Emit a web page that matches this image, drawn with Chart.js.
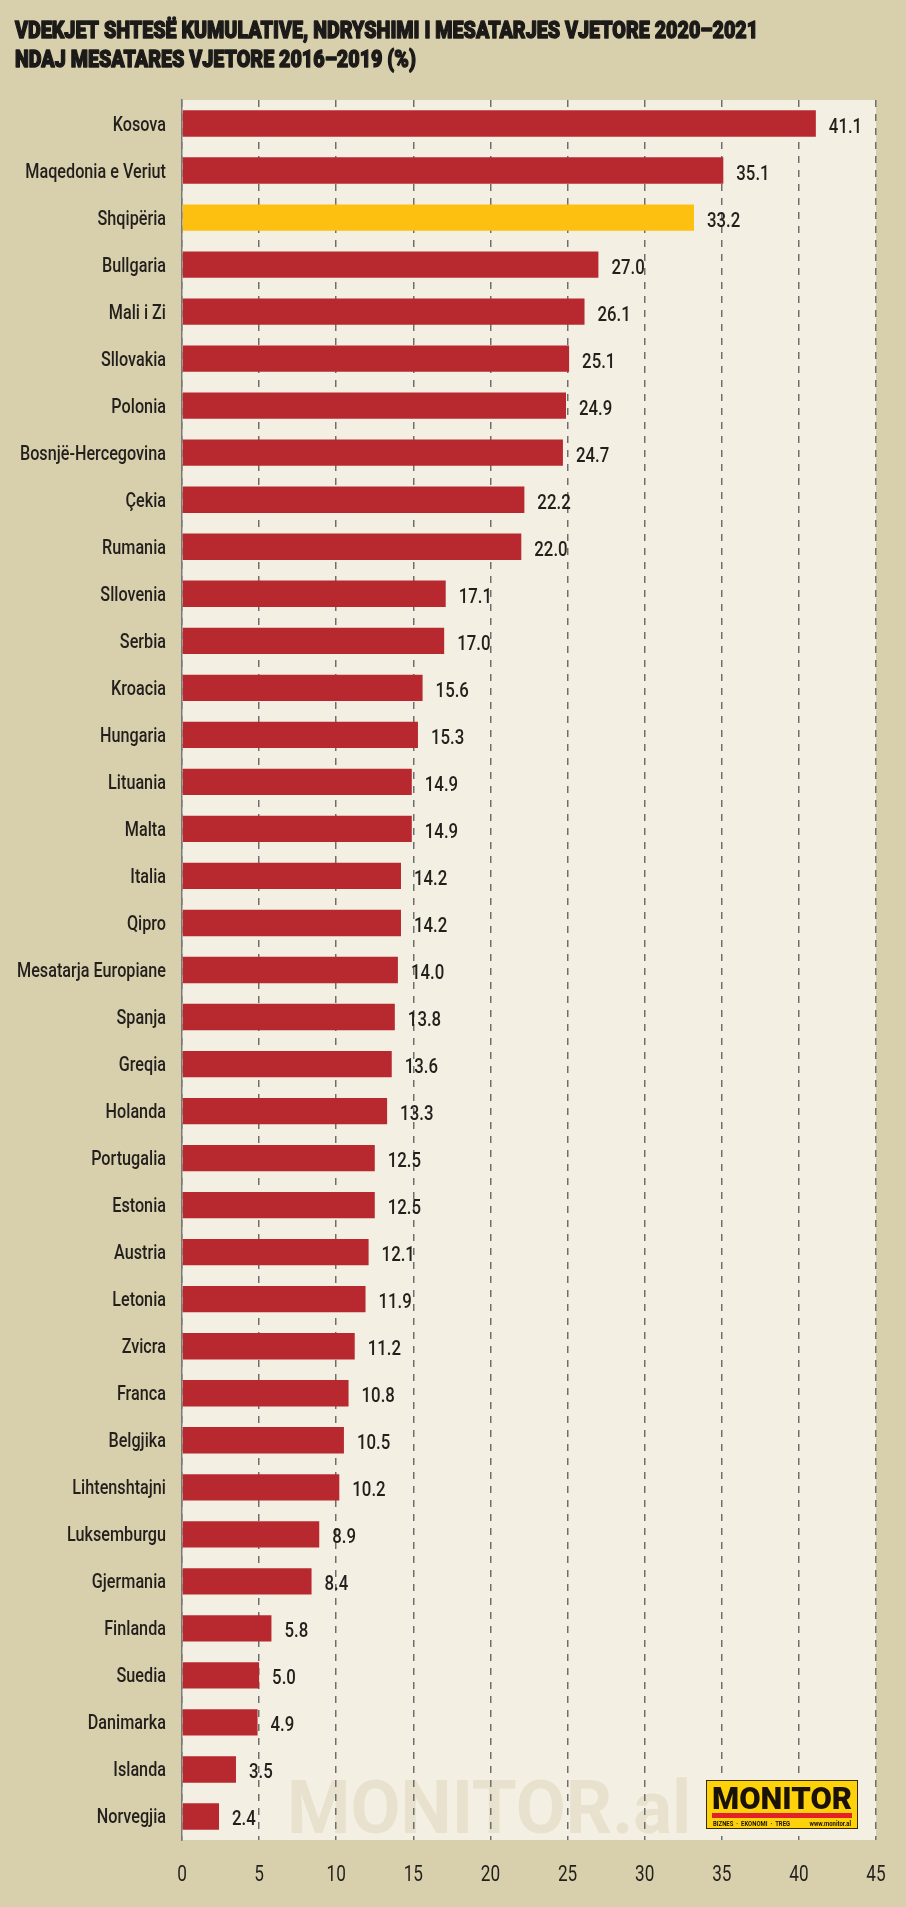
<!DOCTYPE html>
<html>
<head>
<meta charset="utf-8">
<script src="https://cdn.jsdelivr.net/npm/chart.js@4"></script>
<style>
  html, body { margin: 0; padding: 0; background: #d8d0ad; }
  #wrap { position: relative; width: 906px; height: 1907px; }
</style>
</head>
<body>
<div id="wrap"><canvas id="chart"></canvas></div>
<script>
const countries = ['Kosova', 'Maqedonia e Veriut', 'Shqipëria', 'Bullgaria', 'Mali i Zi', 'Sllovakia', 'Polonia',
   'Bosnjë-Hercegovina', 'Çekia', 'Rumania', 'Sllovenia', 'Serbia', 'Kroacia', 'Hungaria', 'Lituania', 'Malta',
   'Italia', 'Qipro', 'Mesatarja Europiane', 'Spanja', 'Greqia', 'Holanda', 'Portugalia', 'Estonia', 'Austria',
   'Letonia', 'Zvicra', 'Franca', 'Belgjika', 'Lihtenshtajni', 'Luksemburgu', 'Gjermania', 'Finlanda', 'Suedia',
   'Danimarka', 'Islanda', 'Norvegjia'];
const excessDeaths = [41.1, 35.1, 33.2, 27.0, 26.1, 25.1, 24.9, 24.7, 22.2, 22.0, 17.1, 17.0, 15.6, 15.3, 14.9, 14.9,
   14.2, 14.2, 14.0, 13.8, 13.6, 13.3, 12.5, 12.5, 12.1, 11.9, 11.2, 10.8, 10.5, 10.2, 8.9, 8.4, 5.8, 5.0, 4.9, 3.5, 2.4];
const highlight = 'Shqipëria';
const xTicks = [0, 5, 10, 15, 20, 25, 30, 35, 40, 45];
const titleLines = ['VDEKJET SHTESË KUMULATIVE, NDRYSHIMI I MESATARJES VJETORE 2020–2021',
   'NDAJ MESATARES VJETORE 2016–2019 (%)'];

const FONT = 'Roboto, "DejaVu Sans", sans-serif';
const INK = '#231f1c';

// no condensed face is installed, so squeeze the text horizontally
function narrowText(ctx, text, x, y, align, sx, stroke) {
   ctx.save();
   ctx.translate(x, y);
   ctx.scale(sx, 1);
   ctx.textAlign = align;
   if (stroke) {
      ctx.lineWidth = stroke;
      ctx.lineJoin = 'round';
      ctx.strokeStyle = ctx.fillStyle;
      ctx.strokeText(text, 0, 0);
   }
   ctx.fillText(text, 0, 0);
   ctx.restore();
}

const decor = {
   id: 'decor',
   beforeDraw(chart) {
      const { ctx, chartArea: a } = chart;
      ctx.save();
      ctx.fillStyle = '#f3f0e3';
      ctx.fillRect(a.left, a.top, a.right - a.left, a.bottom - a.top);
      // watermark
      ctx.fillStyle = '#e7e1cd';
      ctx.font = 'bold 74px ' + FONT;
      ctx.textBaseline = 'alphabetic';
      narrowText(ctx, 'MONITOR.al', 287, 1833, 'left', 0.98);
      // title
      ctx.fillStyle = '#1c1a18';
      ctx.font = '900 24px ' + FONT;
      narrowText(ctx, titleLines[0], 15, 38, 'left', 0.82, 1.4);
      narrowText(ctx, titleLines[1], 15, 67, 'left', 0.82, 1.4);
      ctx.restore();
   },
   afterDraw(chart) {
      const { ctx, scales } = chart;
      ctx.save();
      ctx.fillStyle = INK;
      ctx.textBaseline = 'alphabetic';
      // category labels
      ctx.font = '500 20px ' + FONT;
      countries.forEach((c, i) => {
         narrowText(ctx, c, 166, scales.y.getPixelForValue(i) + 7, 'right', 0.81);
      });
      // x tick labels
      ctx.font = '22px ' + FONT;
      xTicks.forEach(v => {
         narrowText(ctx, String(v), scales.x.getPixelForValue(v), 1881, 'center', 0.78);
      });
      // logo box
      ctx.fillStyle = '#fdd20a';
      ctx.fillRect(706, 1780, 152, 49);
      ctx.strokeStyle = '#3a2a00';
      ctx.lineWidth = 1;
      ctx.strokeRect(706.5, 1780.5, 151, 48);
      ctx.fillStyle = '#1a1208';
      ctx.font = '900 31px ' + FONT;
      narrowText(ctx, 'MONITOR', 782, 1809, 'center', 1);
      ctx.fillStyle = '#e4202a';
      ctx.fillRect(712, 1813, 140, 5);
      ctx.fillStyle = '#1a1208';
      ctx.font = 'bold 7px ' + FONT;
      narrowText(ctx, 'BIZNES  ·  EKONOMI  ·  TREG', 713, 1826, 'left', 0.85);
      narrowText(ctx, 'www.monitor.al', 851, 1826, 'right', 0.85);
      ctx.restore();
   }
};

// value labels at the bar ends
const valueLabels = {
   id: 'valueLabels',
   afterDatasetsDraw(chart) {
      const { ctx } = chart;
      const meta = chart.getDatasetMeta(0);
      ctx.save();
      ctx.fillStyle = INK;
      ctx.font = '500 21px ' + FONT;
      ctx.textBaseline = 'alphabetic';
      meta.data.forEach((bar, i) => {
         narrowText(ctx, excessDeaths[i].toFixed(1), bar.x + 13, bar.y + 9, 'left', 0.8);
      });
      ctx.restore();
   }
};

const context = document.getElementById('chart').getContext('2d');
new Chart(context, {
   type: 'bar',
   data: {
      labels: countries,
      datasets: [{
         data: excessDeaths,
         backgroundColor: countries.map(c => c === highlight ? '#fdc010' : '#b8282f'),
         borderWidth: 0,
         categoryPercentage: 1,
         barPercentage: 0.56,
      }],
   },
   options: {
      indexAxis: 'y',
      responsive: true,
      maintainAspectRatio: false,
      animation: false,
      layout: { padding: { left: 14, right: 30, top: 100, bottom: 0 } },
      plugins: {
         legend: { display: false },
         tooltip: { enabled: false },
      },
      scales: {
         x: {
            min: 0,
            max: 45,
            afterBuildTicks(scale) { scale.ticks = xTicks.map(v => ({ value: v })); },
            afterFit(scale) { scale.height = 67; },
            grid: {
               color: '#6e6e6e',
               lineWidth: 1.5,
               drawTicks: false,
            },
            border: { display: false, dash: [7, 7] },
            ticks: { display: false },
         },
         y: {
            afterFit(scale) { scale.width = 168; },
            grid: { display: false, drawTicks: false },
            border: { display: true, color: '#7a7a7a', width: 1.5 },
            ticks: { display: false, autoSkip: false },
         },
      },
   },
   plugins: [decor, valueLabels],
});
</script>
</body>
</html>
